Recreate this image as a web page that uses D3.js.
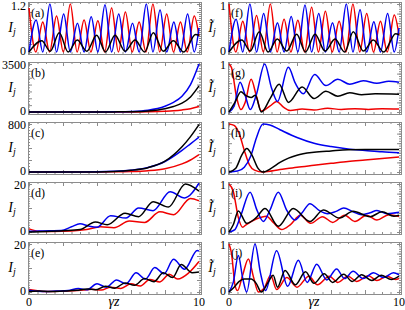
<!DOCTYPE html>
<html>
<head>
<meta charset="utf-8">
<script src="https://cdn.jsdelivr.net/npm/d3@7"></script>
<style>
  body { margin: 0; background: #fff; }
  svg { display: block; font-family: "Liberation Serif", "DejaVu Serif", serif; }
  .tick line { stroke: #8c8c8c; }
</style>
</head>
<body>
<svg id="chart" width="405" height="310"></svg>
<script>
// panel labels and y-axis top tick labels
var panelNames = ["(a)", "(b)", "(c)", "(d)", "(e)", "(f)", "(g)", "(h)", "(i)", "(j)"];
var yTops = [1.2, 3500, 800, 20, 20, 1, 1, 1, 1, 1];
var xTickLabels = [0, 10];

// each series: [gamma z, intensity]
var aRed = [[0,1.1],[0.4,0],[0.81,0.75],[1.21,0],[1.62,0.9],[2.02,0],[2.43,1.2],[2.83,0],[3.24,0.8],[3.64,0],[4.05,0.78],[4.45,0],[4.86,1.1],[5.26,0],[5.67,1.0],[6.07,0],[6.48,0.75],[6.88,0],[7.29,1.2],[7.69,0],[8.1,0.95],[8.5,0],[8.91,0.75],[9.31,0],[9.72,0.9],[10,0.4]];
var aBlue = [[0,0],[0.42,0.8],[0.81,0],[1.23,1.2],[1.62,0],[2.04,0.95],[2.43,0],[2.85,0.72],[3.24,0],[3.66,0.88],[4.05,0],[4.47,1.18],[4.86,0],[5.28,0.95],[5.67,0],[6.09,0.72],[6.48,0],[6.9,1.2],[7.29,0],[7.71,1.05],[8.1,0],[8.52,0.75],[8.91,0],[9.33,0.95],[9.72,0],[10,0.6]];
var aBlack = [[0,0],[0.75,0.28],[1.25,0.02],[1.78,0.48],[2.3,0],[2.84,0.3],[3.4,0.02],[3.98,0.42],[4.5,0],[5.06,0.42],[5.65,0.02],[6.24,0.3],[6.8,0],[7.31,0.48],[7.9,0.02],[8.49,0.28],[9.1,0],[9.8,0.44],[10,0.42]];

var bRed = [[0,0],[2,0],[4,1],[5,3],[6,6],[7,20],[8,55],[8.5,90],[9,150],[9.5,240],[10,400]];
var bBlue = [[0,0],[2,0],[4,4],[5,14],[6,40],[7,130],[8,420],[8.5,700],[9,1150],[9.5,2000],[10,3500]];
var bBlack = [[0,0],[2,0],[4,3],[5,9],[6,25],[7,80],[8,240],[8.5,400],[9,650],[9.5,1100],[10,1900]];

var cRed = [[0,0],[3,0.5],[5,3],[6,8],[7,22],[8,55],[9,135],[9.5,200],[10,290]];
var cBlue = [[0,0],[3,1],[5,12],[6,30],[7,75],[8,175],[9,360],[9.5,470],[10,580]];
var cBlack = [[0,0],[3,1],[5,10],[6,28],[7,72],[8,180],[9,420],[9.5,590],[10,790]];

var dRed = [[0,1.3],[0.6,0.3],[1.4,0.2],[2.5,0.4],[3.4,1.0],[4.2,2.2],[5.0,1.8],[5.9,4.6],[6.8,4.0],[7.7,8.4],[8.5,7.2],[9.5,14.0],[10,13.0]];
var dBlue = [[0,0.3],[0.6,0.4],[1.2,0.5],[1.9,0.6],[2.5,2.2],[3.0,3.4],[3.5,2.5],[4.0,2.0],[4.8,6.8],[5.7,5.8],[6.45,10.0],[7.3,8.9],[8.3,16.8],[9.15,14.2],[10,20.3]];
var dBlack = [[0,0],[1,0.2],[2,0.5],[3,1.0],[3.9,4.2],[4.6,3.0],[5.65,7.8],[6.45,6.4],[7.3,12.6],[8.2,10.4],[9.2,20.0],[10,17.0]];

var eRed = [[0,1.0],[0.5,0.5],[1,0.2],[1.8,0.3],[2.6,0.5],[3.2,0.8],[3.7,1.1],[4.25,0.8],[4.8,2.0],[5.4,1.5],[6.0,3.4],[6.55,2.5],[7.1,5.2],[7.7,4.2],[8.25,7.4],[8.75,5.4],[9.4,8.0],[10,12.7]];
var eBlue = [[0,0.7],[0.5,0.3],[1,0.2],[1.6,0.4],[2.3,0.6],[2.9,1.5],[3.4,0.9],[4.0,3.4],[4.55,2.0],[5.15,5.0],[5.7,3.4],[6.3,8.0],[6.85,5.4],[7.4,10.2],[7.95,7.6],[8.5,13.6],[9.15,9.5],[9.9,17.3],[10,17.0]];
var eBlack = [[0,0.2],[0.6,0.4],[1.2,0.2],[2,0.4],[2.8,0.7],[3.4,1.3],[3.9,0.9],[4.5,2.4],[5.05,1.6],[5.65,3.8],[6.2,2.8],[6.8,5.6],[7.35,4.3],[7.9,8.0],[8.45,6.0],[8.95,11.5],[9.6,8.0],[10,8.3]];

var fRed = [[0,1.0],[0.4,0],[0.81,0.64],[1.21,0],[1.62,0.76],[2.02,0],[2.43,1.0],[2.83,0],[3.24,0.68],[3.64,0],[4.05,0.66],[4.45,0],[4.86,0.93],[5.26,0],[5.67,0.85],[6.07,0],[6.48,0.64],[6.88,0],[7.29,1.0],[7.69,0],[8.1,0.8],[8.5,0],[8.91,0.64],[9.31,0],[9.72,0.77],[10,0.35]];
var fBlue = [[0,0],[0.42,0.68],[0.81,0],[1.23,1.0],[1.62,0],[2.04,0.8],[2.43,0],[2.85,0.61],[3.24,0],[3.66,0.74],[4.05,0],[4.47,0.98],[4.86,0],[5.28,0.8],[5.67,0],[6.09,0.61],[6.48,0],[6.9,1.0],[7.29,0],[7.71,0.88],[8.1,0],[8.52,0.63],[8.91,0],[9.33,0.8],[9.72,0],[10,0.5]];
var fBlack = [[0,0],[0.75,0.25],[1.25,0.02],[1.78,0.42],[2.3,0],[2.84,0.27],[3.4,0.02],[3.98,0.37],[4.5,0],[5.06,0.37],[5.65,0.02],[6.24,0.27],[6.8,0],[7.31,0.42],[7.9,0.02],[8.49,0.25],[9.1,0],[9.8,0.38],[10,0.36]];

var gRed = [[0,1.0],[0.15,0.92],[0.45,0.3],[0.7,0.05],[0.95,0.2],[1.3,0.68],[1.6,0.35],[1.9,0.02],[2.4,0.12],[2.8,0.22],[3.2,0.1],[3.6,0.03],[4.3,0.06],[5.0,0.04],[5.8,0.08],[6.6,0.05],[7.4,0.07],[8.2,0.05],[9,0.07],[10,0.06]];
var gBlue = [[0,0],[0.3,0.12],[0.65,0.62],[0.95,0.35],[1.25,0.05],[1.6,0.35],[2.1,1.0],[2.5,0.5],[2.85,0.22],[3.49,0.93],[3.9,0.6],[4.37,0.38],[5.04,0.78],[5.7,0.55],[6.4,0.68],[7.1,0.58],[7.9,0.65],[8.7,0.6],[9.4,0.64],[10,0.62]];
var gBlack = [[0,0],[0.35,0.2],[0.7,0.42],[1.0,0.34],[1.3,0.3],[1.55,0.35],[1.9,0.0],[2.45,0.3],[2.95,0.58],[3.5,0.2],[4.3,0.52],[5.0,0.28],[5.7,0.43],[6.4,0.33],[7.1,0.4],[7.8,0.36],[8.6,0.38],[10,0.37]];

var hRed = [[0,1.0],[0.3,0.97],[0.6,0.8],[0.9,0.45],[1.2,0.15],[1.5,0.04],[2.0,0.0],[3,0.05],[4,0.1],[5,0.14],[6,0.18],[7,0.22],[8,0.25],[9,0.28],[10,0.31]];
var hBlue = [[0,0],[0.5,0.02],[0.9,0.1],[1.3,0.35],[1.6,0.7],[2.0,1.0],[2.4,0.98],[3.0,0.88],[4.0,0.72],[5.0,0.6],[6.0,0.53],[7.0,0.48],[8.0,0.45],[9.0,0.42],[10,0.4]];
var hBlack = [[0,0],[0.4,0.08],[0.75,0.35],[1.05,0.49],[1.35,0.35],[1.7,0.08],[2.0,0.0],[2.5,0.08],[3.0,0.2],[3.5,0.29],[4,0.35],[5,0.41],[6,0.44],[7,0.465],[8,0.47],[9,0.47],[10,0.47]];

var iRed = [[0,1.0],[0.25,0.85],[0.55,0.3],[0.8,0.1],[1.0,0.15],[1.6,0.27],[2.2,0.33],[2.6,0.2],[3.1,0.05],[3.6,0.15],[4.2,0.35],[4.8,0.18],[5.5,0.32],[6.1,0.2],[6.8,0.35],[7.4,0.22],[8.1,0.35],[8.7,0.25],[9.4,0.36],[10,0.32]];
var iBlue = [[0,0],[0.35,0.05],[0.7,0.35],[1.24,0.83],[1.65,0.45],[2.02,0.22],[2.4,0.45],[2.9,0.83],[3.4,0.45],[3.88,0.25],[4.3,0.4],[4.76,0.59],[5.3,0.45],[5.8,0.38],[6.3,0.43],[6.75,0.5],[7.3,0.42],[7.8,0.36],[8.3,0.4],[8.7,0.45],[9.3,0.38],[10,0.41]];
var iBlack = [[0,0],[0.25,0.15],[0.55,0.44],[1.04,0.18],[1.6,0.3],[2.12,0.49],[2.9,0.12],[3.78,0.49],[4.76,0.22],[5.55,0.46],[6.5,0.29],[7.3,0.43],[8.3,0.32],[9.0,0.42],[9.7,0.33],[10,0.35]];

var jRed = [[0,1.0],[0.15,0.8],[0.35,0.15],[0.5,0.03],[0.8,0.35],[1.14,0.69],[1.45,0.3],[1.73,0.0],[2.1,0.1],[2.45,0.35],[2.8,0.05],[3.4,0.3],[4.0,0.1],[4.7,0.33],[5.2,0.15],[5.9,0.33],[6.4,0.2],[7.0,0.33],[7.5,0.22],[8.2,0.34],[8.7,0.24],[9.3,0.33],[9.8,0.26],[10,0.28]];
var jBlue = [[0,0],[0.25,0.2],[0.55,0.76],[0.8,0.3],[1.04,0.0],[1.53,1.0],[1.85,0.4],[2.15,0.03],[2.8,0.86],[3.45,0.12],[4.08,0.66],[4.6,0.2],[5.16,0.58],[5.75,0.25],[6.33,0.48],[6.8,0.28],[7.3,0.43],[7.9,0.28],[8.5,0.4],[9.1,0.3],[9.67,0.4],[10,0.36]];
var jBlack = [[0,0],[0.3,0.1],[0.6,0.22],[0.9,0.27],[1.3,0.27],[1.6,0.18],[1.9,0.0],[2.3,0.2],[2.6,0.35],[2.85,0.1],[3.3,0.45],[3.9,0.15],[4.5,0.42],[5.0,0.18],[5.6,0.38],[6.1,0.2],[6.75,0.37],[7.25,0.22],[7.8,0.36],[8.4,0.24],[8.95,0.35],[9.55,0.26],[10,0.33]];

var series = [
  [aRed, aBlue, aBlack], [bRed, bBlue, bBlack], [cRed, cBlue, cBlack],
  [dRed, dBlue, dBlack], [eRed, eBlue, eBlack], [fRed, fBlue, fBlack],
  [gRed, gBlue, gBlack], [hRed, hBlue, hBlack], [iRed, iBlue, iBlack],
  [jRed, jBlue, jBlack]
];
var colors = ["#f00000", "#0000f0", "#000"];

var svg = d3.select("#chart");
var colLeft = [29, 229];

panelNames.forEach(function(name, i) {
  var col = Math.floor(i / 5), row = i % 5;
  var top = 2 + row * 60, bottom = top + 52;
  var left = colLeft[col] - 1, right = colLeft[col] + 172;

  var x = d3.scaleLinear().domain([0, 10]).range([colLeft[col], colLeft[col] + 170]);
  var y = d3.scaleLinear().domain([0, yTops[i]]).range([bottom - 2, top + 2]);

  var g = svg.append("g");

  // frame ticks, pointing inward
  var xMinor = d3.range(0, 10.01, 0.5), xMajor = d3.range(0, 10.01, 2);
  var yMinor = d3.ticks(0, yTops[i], 20), yMajor = d3.ticks(0, yTops[i], 5);
  [[xMinor, 2], [xMajor, 4]].forEach(function(t) {
    g.append("g").attr("transform", "translate(0," + bottom + ")")
      .call(d3.axisBottom(x).tickValues(t[0]).tickSize(-t[1]).tickFormat(""));
    g.append("g").attr("transform", "translate(0," + top + ")")
      .call(d3.axisTop(x).tickValues(t[0]).tickSize(-t[1]).tickFormat(""));
  });
  [[yMinor, 2], [yMajor, 4]].forEach(function(t) {
    g.append("g").attr("transform", "translate(" + left + ",0)")
      .call(d3.axisLeft(y).tickValues(t[0]).tickSize(-t[1]).tickFormat(""));
    g.append("g").attr("transform", "translate(" + right + ",0)")
      .call(d3.axisRight(y).tickValues(t[0]).tickSize(-t[1]).tickFormat(""));
  });
  g.selectAll(".domain").remove();

  g.append("rect")
    .attr("x", left + 0.5).attr("y", top + 0.5)
    .attr("width", right - left).attr("height", bottom - top)
    .attr("fill", "none").attr("stroke", "#8c8c8c").attr("stroke-width", 1);

  var line = d3.line()
    .x(function(d) { return x(d[0]); })
    .y(function(d) { return y(d[1]); })
    .curve(d3.curveMonotoneX);

  series[i].forEach(function(s, k) {
    g.append("path").datum(s)
      .attr("d", line)
      .attr("fill", "none")
      .attr("stroke", colors[k])
      .attr("stroke-width", 1.5);
  });

  // panel letter
  g.append("text").attr("x", left + 3).attr("y", top + 15)
    .attr("font-size", 12).text(name);

  // y tick labels
  g.append("text").attr("x", left - 2).attr("y", y(0) + 3)
    .attr("text-anchor", "end").attr("font-size", 12).text(0);
  g.append("text").attr("x", left - 2).attr("y", Math.max(y(yTops[i]) + 5, 10))
    .attr("text-anchor", "end").attr("font-size", 12).text(yTops[i]);

  // y title
  var yt = g.append("text").attr("x", left - 16).attr("y", top + 30)
    .attr("text-anchor", "middle").attr("font-size", 14).attr("font-style", "italic");
  yt.append("tspan").text(col === 0 ? "I" : "\u0128");
  yt.append("tspan").attr("dy", 3).attr("font-size", 10).text("j");

  // bottom row x labels
  if (row === 4) {
    xTickLabels.forEach(function(v) {
      g.append("text").attr("x", x(v)).attr("y", bottom + 12)
        .attr("text-anchor", "middle").attr("font-size", 12).text(v);
    });
    g.append("text").attr("x", x(5)).attr("y", bottom + 12)
      .attr("text-anchor", "middle").attr("font-size", 14).attr("font-style", "italic")
      .text("\u03b3z");
  }
});
</script>
</body>
</html>
